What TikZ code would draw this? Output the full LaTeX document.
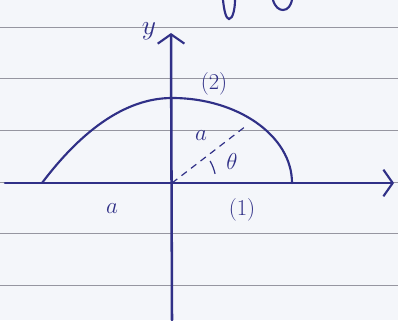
\documentclass[tikz,border=0pt]{standalone}
\usetikzlibrary{arrows.meta}
\definecolor{ink}{RGB}{48,48,135}
\definecolor{paper}{RGB}{244,246,250}
\definecolor{rule}{RGB}{150,150,160}
\tikzset{
  inkline/.style={draw=ink, line width=1.9pt, line cap=round},
  curveline/.style={draw=ink, line width=1.6pt, line cap=round},
  dashline/.style={draw=ink, line width=0.9pt, dash pattern=on 5pt off 4pt},
  ruleline/.style={draw=rule, line width=0.6pt},
  lbl/.style={text=ink, inner sep=0pt, font=\fontsize{17}{19}\selectfont},
  barb/.style={-{Straight Barb[length=7pt,width=20pt,line width=1.6pt]}}
}
\begin{document}
\begin{tikzpicture}[x=0.75pt,y=-0.75pt]
\fill[paper] (0,0) rectangle (398,320);
\useasboundingbox (0,0) rectangle (398,320);
% ruled lines
\foreach \yy in {27,78,130,182,233,285}{
  \draw[ruleline] (0,\yy) -- (398,\yy);
}
% fragments of writing at top edge
\draw[curveline] (223,0) .. controls (224,10) and (226,19) .. (229,19) .. controls (233,19) and (235,8) .. (235,0);
\draw[curveline] (273,0) .. controls (275,7) and (279,10) .. (283,10) .. controls (288,10) and (291,5) .. (292,0);
% coordinates
\coordinate (O) at (172,183);
\coordinate (xl) at (5,183);
\coordinate (xr) at (394,183);
\coordinate (yb) at (172,320);
\coordinate (yt) at (171,33);
\coordinate (L) at (42,183);
\coordinate (T) at (172,98);
\coordinate (R) at (292,183);
\coordinate (D) at (246,126);
% axes
\draw[inkline, barb] (xl) -- (xr);
\draw[inkline, barb] (yb) -- (yt);
% curve
\draw[curveline] (L) .. controls (85,126) and (129,98) .. (T)
  .. controls (238,98) and (292,136) .. (R);
% dashed radius
\draw[dashline] (O) -- (D);
% angle arc
\draw[draw=ink, line width=0.9pt] ([shift={(-12:44)}]O) arc[start angle=-12, end angle=-30, radius=44];
% labels
\node[lbl] (ylab) at (149,31) {\fontsize{22}{24}\selectfont$y$};
\node[lbl] (two) at (214,84) {(2)};
\node[lbl] (aone) at (201,136) {$a$};
\node[lbl] (theta) at (232,161) {$\theta$};
\node[lbl] (one) at (242,210) {(1)};
\node[lbl] (atwo) at (112,209) {$a$};
\end{tikzpicture}
\end{document}
